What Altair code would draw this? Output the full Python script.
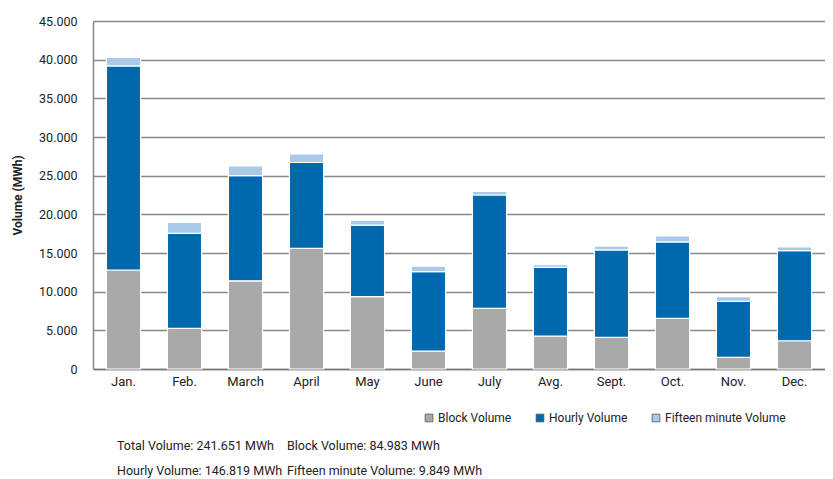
import altair as alt
import pandas as pd

months = ["Jan.", "Feb.", "March", "April", "May", "June", "July", "Avg.", "Sept.", "Oct.", "Nov.", "Dec."]
block = [12800, 5250, 11400, 15600, 9350, 2300, 7850, 4250, 4100, 6550, 1500, 3650]
hourly = [26400, 12300, 13600, 11100, 9250, 10300, 14650, 8900, 11300, 9900, 7250, 11650]
fifteen = [1100, 1400, 1250, 1100, 650, 700, 450, 350, 500, 750, 600, 500]
series = ["Block Volume", "Hourly Volume", "Fifteen minute Volume"]
colors = ["#a9a9a9", "#0069ad", "#a9c9e8"]
notes_line1 = ["Total Volume: 241.651 MWh", "Block Volume: 84.983 MWh"]
notes_line2 = ["Hourly Volume: 146.819 MWh", "Fifteen minute Volume: 9.849 MWh"]

rows = []
for i, m in enumerate(months):
    for k, (name, vals) in enumerate(zip(series, [block, hourly, fifteen])):
        rows.append({"month": m, "series": name, "value": vals[i], "order": k})
df = pd.DataFrame(rows)

FONT = "Roboto"
W, H = 732, 348

bars = alt.Chart(df).mark_bar(stroke="white", strokeWidth=1.2).encode(
    x=alt.X("month:N", sort=months, title=None,
            scale=alt.Scale(paddingInner=0.44, paddingOuter=0.22),
            axis=alt.Axis(labelAngle=0, ticks=False, labelPadding=6, labelFontSize=13,
                          labelColor="#222", labelFont=FONT, domainColor="#777", domainWidth=1.5)),
    y=alt.Y("value:Q", stack="zero", title="Volume (MWh)",
            scale=alt.Scale(domain=[0, 45000], nice=False),
            axis=alt.Axis(values=list(range(0, 45001, 5000)),
                          labelExpr="replace(format(datum.value, ',d'), ',', '.')",
                          ticks=False, labelPadding=16, labelFontSize=12.5, labelColor="#222",
                          labelFont=FONT, titleFont=FONT, titleFontSize=12, titleFontWeight="bold",
                          titleColor="#222", titlePadding=14, gridColor="#888", gridWidth=1.3,
                          domainColor="#888", domainWidth=1.5)),
    color=alt.Color("series:N", sort=series,
                    scale=alt.Scale(domain=series, range=colors),
                    legend=alt.Legend(title=None, orient="none", direction="horizontal",
                                      legendX=330, legendY=H + 43, symbolType="square",
                                      symbolSize=60, symbolStrokeColor="#555", symbolStrokeWidth=0.8,
                                      labelFont=FONT, labelFontSize=12, labelColor="#222",
                                      columnPadding=22, labelOffset=3)),
    order=alt.Order("order:Q"),
)

notes = pd.DataFrame({
    "text": notes_line1 + notes_line2,
    "col": [0, 1, 0, 1],
    "row": [0, 0, 1, 1],
})
text1 = alt.Chart(notes).mark_text(align="left", baseline="middle", font=FONT, fontSize=12.5,
                                   color="#222").encode(
    x=alt.X("col:Q", scale=alt.Scale(domain=[0, 1], range=[24, 194]), axis=None),
    y=alt.Y("row:Q", scale=alt.Scale(domain=[0, 1], range=[H + 77, H + 102]), axis=None),
    text="text:N",
)

chart = alt.layer(bars, text1).resolve_scale(x="independent", y="independent").properties(
    width=W, height=H,
    autosize=alt.AutoSizeParams(type="none"),
    padding={"left": 85, "top": 13, "right": 0, "bottom": 110},
).configure_view(stroke=None)

chart.save("out.html", embed_options={"renderer": "svg", "actions": False})
